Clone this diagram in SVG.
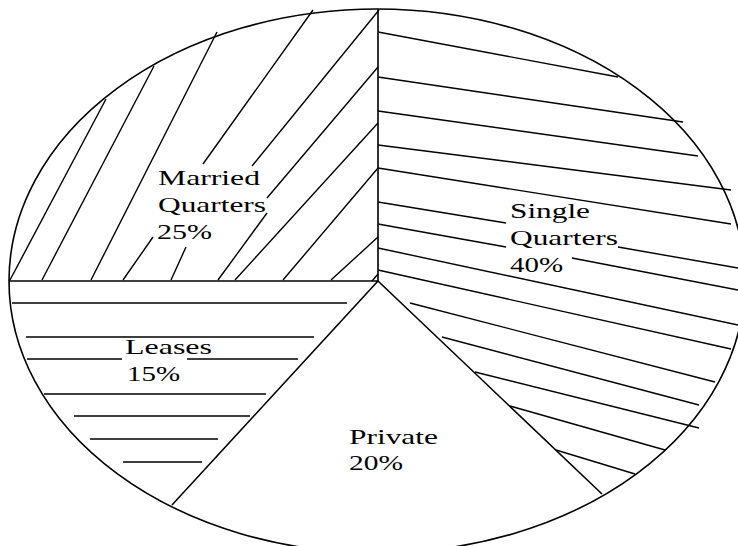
<svg xmlns="http://www.w3.org/2000/svg" width="738" height="546" viewBox="0 0 738 546">
<style>
.o{fill:none;stroke:#000;stroke-width:1.6}
.h{stroke:#000;stroke-width:1.4;fill:none}
.t{font-family:"Liberation Serif","Times New Roman",serif;font-size:22px;fill:#000}
</style>
<rect width="738" height="546" fill="#fff"/>
<g id="outline">
<ellipse class="o" cx="377" cy="281" rx="368" ry="272"/>
<path class="o" d="M9 281 H378 V9 M378 281 L172 505 M378 281 L602 494"/>
</g>
<g id="married">
<path class="h" d="M10 280 L106 99 M42 280 L154 66 M91 280 L217 32 M123 280 L153 237 M203 164 L313 10 M171 280 L186 247 M252 166 L379 10 M218 280 L267 213 M267 198 L378 67 M235 280 L378 123 M283 280 L378 168 M331 280 L378 237 M372 281 L378 274"/>
<text class="t" x="158" y="185" textLength="102" lengthAdjust="spacingAndGlyphs">Married</text>
<text class="t" x="158" y="212" textLength="108" lengthAdjust="spacingAndGlyphs">Quarters</text>
<text class="t" x="157" y="239" textLength="55" lengthAdjust="spacingAndGlyphs">25%</text>
</g>
<g id="single">
<path class="h" d="M378 32 L618 77 M378 77 L683 122 M378 111 L698 156 M378 145 L731 190 M378 168 L731 224 M378 202 L506 223 M618 247 L738 268 M378 224 L506 247 M572 258 L738 290 M378 248 L738 325 M378 270 L731 349 M410 303 L715 382 M442 337 L699 405 M475 372 L699 428 M510 406 L665 450 M556 450 L635 474"/>
<text class="t" x="510" y="218" textLength="80" lengthAdjust="spacingAndGlyphs">Single</text>
<text class="t" x="510" y="245" textLength="108" lengthAdjust="spacingAndGlyphs">Quarters</text>
<text class="t" x="510" y="272" textLength="53" lengthAdjust="spacingAndGlyphs">40%</text>
</g>
<g id="leases">
<path class="h" d="M12 303 H347 M26 337 H314 M27 359 H122 M187 359 H298 M44 394 H266 M74 416 H250 M90 439 H218 M123 462 H202"/>
<text class="t" x="125" y="354" textLength="87" lengthAdjust="spacingAndGlyphs">Leases</text>
<text class="t" x="127" y="381" textLength="53" lengthAdjust="spacingAndGlyphs">15%</text>
</g>
<g id="private">
<text class="t" x="349" y="444" textLength="89" lengthAdjust="spacingAndGlyphs">Private</text>
<text class="t" x="349" y="470" textLength="54" lengthAdjust="spacingAndGlyphs">20%</text>
</g>
</svg>
